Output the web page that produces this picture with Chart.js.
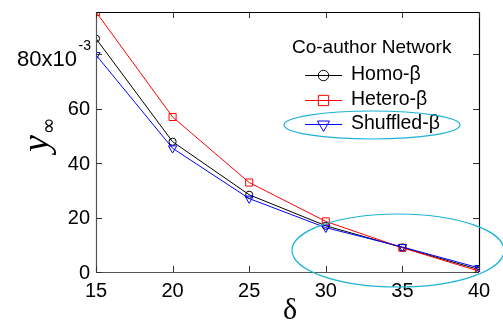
<!DOCTYPE html>
<html><head><meta charset="utf-8">
<script src="https://cdn.jsdelivr.net/npm/chart.js@4"></script>
<style>html,body{margin:0;padding:0;background:#fff}#wrap{width:503px;height:327px}</style>
</head><body><div id="wrap"><canvas id="c" width="503" height="327"></canvas></div>
<script>
const deltas = [15, 20, 25, 30, 35, 40];
const homo = [85.8, 47.9, 28.4, 17.0, 9.0, 0.9];
const hetero = [95.6, 57.0, 32.9, 18.6, 8.9, 0.3];
const shuffled = [79.8, 45.5, 27.0, 16.3, 9.2, 1.5];
const xTicks = [15, 20, 25, 30, 35, 40];
const yTicks = [0, 20, 40, 60, 80];
const seriesNames = ['Homo-\u03b2', 'Hetero-\u03b2', 'Shuffled-\u03b2'];
const legendTitle = 'Co-author Network';
const yMax = 95.6;

const FONT = '"Liberation Sans", Arial, Helvetica, sans-serif';
const pts = arr => deltas.map((d, i) => ({x: d, y: arr[i]}));

const styles = [
  {color: '#000000', pointStyle: 'circle', radius: 3.6, rot: 0},
  {color: '#ff0000', pointStyle: 'rect', radius: 5, rot: 0},
  {color: '#0000ff', pointStyle: 'triangle', radius: 4.8, rot: 180}
];
const dataArrays = [homo, hetero, shuffled];

const datasets = dataArrays.map((arr, i) => ({
  label: seriesNames[i],
  data: pts(arr),
  borderColor: styles[i].color,
  borderWidth: 1,
  pointStyle: styles[i].pointStyle,
  pointRadius: styles[i].radius,
  pointRotation: styles[i].rot,
  pointBorderColor: styles[i].color,
  pointBackgroundColor: 'rgba(0,0,0,0)',
  pointBorderWidth: 1,
  showLine: true,
  tension: 0,
  order: 3 - i
}));

const decor = {
  id: 'decor',
  afterDatasetsDraw(chart) {
    const ctx = chart.ctx, a = chart.chartArea;
    const xs = chart.scales.x, ys = chart.scales.y;
    ctx.save();
    // box
    ctx.lineWidth = 1.2;
    ctx.strokeStyle = '#000';
    ctx.beginPath();
    ctx.moveTo(a.left, a.top + 0.5); ctx.lineTo(a.right + 0.5, a.top + 0.5); ctx.lineTo(a.right + 0.5, a.bottom);
    ctx.stroke();
    ctx.strokeStyle = '#555';
    ctx.beginPath();
    ctx.moveTo(a.left + 0.5, a.top); ctx.lineTo(a.left + 0.5, a.bottom + 0.5); ctx.lineTo(a.right, a.bottom + 0.5);
    ctx.stroke();
    // ticks (inward)
    ctx.lineWidth = 1;
    ctx.strokeStyle = '#333';
    xTicks.forEach(v => {
      const px = Math.round(xs.getPixelForValue(v)) + 0.5;
      ctx.beginPath(); ctx.moveTo(px, a.bottom); ctx.lineTo(px, a.bottom - 6); ctx.stroke();
      ctx.beginPath(); ctx.moveTo(px, a.top); ctx.lineTo(px, a.top + 6); ctx.stroke();
    });
    yTicks.forEach(v => {
      const py = Math.round(ys.getPixelForValue(v)) + 0.5;
      ctx.beginPath(); ctx.moveTo(a.left, py); ctx.lineTo(a.left + 6, py); ctx.stroke();
      ctx.beginPath(); ctx.moveTo(a.right, py); ctx.lineTo(a.right - 6, py); ctx.stroke();
    });
    // tick labels
    ctx.fillStyle = '#000';
    ctx.font = '20px ' + FONT;
    ctx.textAlign = 'center';
    ctx.textBaseline = 'middle';
    xTicks.forEach(v => ctx.fillText(String(v), xs.getPixelForValue(v), a.bottom + 19));
    ctx.textAlign = 'right';
    yTicks.forEach(v => {
      const py = ys.getPixelForValue(v);
      if (v === 80) {
        ctx.font = '22px ' + FONT;
        ctx.fillText('80x10', 77, py + 6);
        ctx.font = '14px ' + FONT;
        ctx.fillText('-3', 91, py - 8);
      } else {
        ctx.font = '20px ' + FONT;
        ctx.fillText(String(v), 90, py + 1);
      }
    });
    // axis titles
    ctx.save();
    ctx.translate(48, 152);
    ctx.rotate(-Math.PI / 2);
    ctx.textAlign = 'left';
    ctx.textBaseline = 'alphabetic';
    ctx.font = 'italic 38px "Liberation Serif", "DejaVu Serif", serif';
    ctx.fillText('y', 0, 0);
    const wy = ctx.measureText('y').width;
    ctx.font = '20px "DejaVu Sans", sans-serif';
    ctx.fillText('\u221e', wy + 1, 7);
    ctx.restore();
    ctx.textAlign = 'center';
    ctx.textBaseline = 'middle';
    ctx.font = '30px "Liberation Serif", "DejaVu Serif", serif';
    ctx.fillText('\u03b4', 290, 311);
    // legend
    ctx.font = '19px ' + FONT;
    ctx.textAlign = 'left';
    ctx.fillText(legendTitle, 292, 48);
    const ly = [75, 100, 124];
    ctx.font = '19.5px ' + FONT;
    styles.forEach((s, i) => {
      ctx.strokeStyle = s.color;
      ctx.lineWidth = 1;
      const st = {pointStyle: s.pointStyle, radius: s.radius * 1.45, rotation: s.rot, borderWidth: 1};
      ctx.beginPath(); ctx.moveTo(305, ly[i] + 0.5); ctx.lineTo(342, ly[i] + 0.5); ctx.stroke();
      ctx.fillStyle = 'rgba(0,0,0,0)';
      Chart.helpers.drawPoint(ctx, st, 323.5, ly[i] + 0.5);
      ctx.fillStyle = '#000';
      ctx.fillText(seriesNames[i], 351, ly[i]);
    });
    // cyan ellipses
    ctx.strokeStyle = '#1fb3d6';
    ctx.lineWidth = 1.2;
    ctx.beginPath(); ctx.ellipse(372, 125, 88, 14, 0, 0, Math.PI * 2); ctx.stroke();
    ctx.beginPath(); ctx.ellipse(398, 250.5, 106, 36.5, 0, 0, Math.PI * 2); ctx.stroke();
    ctx.restore();
  }
};

new Chart(document.getElementById('c'), {
  type: 'scatter',
  data: {datasets},
  options: {
    responsive: false,
    animation: false,
    layout: {padding: {top: 12, right: 24, left: 0, bottom: 0}},
    plugins: {legend: {display: false}, tooltip: {enabled: false}},
    scales: {
      x: {
        type: 'linear', min: 15, max: 40,
        grid: {display: false}, border: {display: false},
        ticks: {display: false},
        afterFit: s => { s.height = 55; }
      },
      y: {
        type: 'linear', min: 0, max: yMax,
        grid: {display: false}, border: {display: false},
        ticks: {display: false},
        afterFit: s => { s.width = 96; }
      }
    }
  },
  plugins: [decor]
});
</script>
</body></html>
